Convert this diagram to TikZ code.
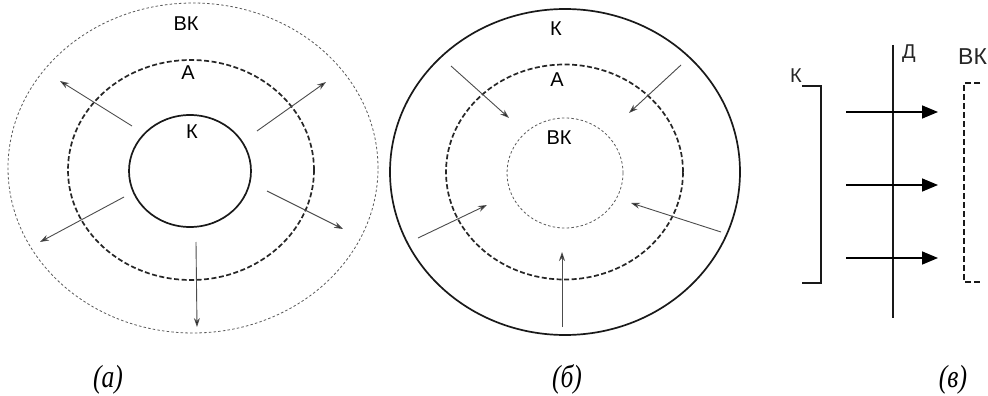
\documentclass[tikz,border=0pt]{standalone}
\usepackage{fontspec}
\setmainfont{Liberation Serif}
\setsansfont{Liberation Sans}
\usetikzlibrary{arrows.meta}
\tikzset{
  dotring/.style={draw=black!65, line width=0.8pt, dash pattern=on 2.5pt off 2.2pt},
  dashring/.style={draw=black!85, line width=1.7pt, dash pattern=on 5pt off 2.5pt},
  solidring/.style={draw=black!90, line width=1.7pt},
  thinarrow/.style={draw=black!70, line width=0.9pt, -{Stealth[length=9pt,width=6pt,fill=black]}},
  bigarrow/.style={draw=black, line width=1.6pt, -{Triangle[length=16pt,width=13pt]}},
  lbl/.style={font=\sffamily\fontsize{20}{20}\selectfont, inner sep=0pt, anchor=base},
  lblc/.style={font=\sffamily\fontsize{20}{20}\selectfont, inner sep=0pt, text=black!85, anchor=base},
  captxt/.style={font=\itshape\fontsize{32}{32}\selectfont, inner sep=0pt, xscale=0.8, anchor=base}
}
\begin{document}
\begin{tikzpicture}[x=1pt,y=-1pt]
\clip (0,0) rectangle (988,396);
\fill[white] (0,0) rectangle (988,396);

% ---------- (a) ----------
\draw[dotring]   (193,168) ellipse [x radius=185pt, y radius=165pt];
\draw[dashring]  (191,170) ellipse [x radius=123pt, y radius=110pt];
\draw[solidring] (190,171) ellipse [x radius=61pt, y radius=56pt];
\node[lbl] (aBK) at (186,31) {ВК};
\node[lbl] (aA)  at (188,80) {А};
\node[lbl] (aK)  at (192,138) {К};
\coordinate (a1s) at (132,126); \coordinate (a1e) at (60,81);
\coordinate (a2s) at (257,131); \coordinate (a2e) at (326,82);
\coordinate (a3s) at (124,197); \coordinate (a3e) at (40,242);
\coordinate (a4s) at (267,191); \coordinate (a4e) at (343,229);
\coordinate (a5s) at (196,242); \coordinate (a5e) at (197,327);
\foreach \i in {1,...,5}{\draw[thinarrow] (a\i s) -- (a\i e);}

% ---------- (б) ----------
\draw[solidring] (565,172) ellipse [x radius=175pt, y radius=163pt];
\draw[dashring]  (564.5,172) ellipse [x radius=118.5pt, y radius=107.5pt];
\draw[dotring]   (565,173) ellipse [x radius=58pt, y radius=55pt];
\node[lbl] (bK)  at (556,36) {К};
\node[lbl] (bA)  at (557,86) {А};
\node[lbl] (bBK) at (559,144) {ВК};
\coordinate (b1s) at (451,66);  \coordinate (b1e) at (509,118);
\coordinate (b2s) at (681,65);  \coordinate (b2e) at (629,113);
\coordinate (b3s) at (418,238); \coordinate (b3e) at (487,205);
\coordinate (b4s) at (721,232); \coordinate (b4e) at (631,203);
\coordinate (b5s) at (562,327); \coordinate (b5e) at (562,252);
\foreach \i in {1,...,5}{\draw[thinarrow] (b\i s) -- (b\i e);}

% ---------- (в) ----------
\node[lblc] (cK)  at (796,82) {К};
\node[lblc] (cA)  at (909,59) {Д};
\node[lblc, anchor=base west, font=\sffamily\fontsize{23}{23}\selectfont] (cBK) at (958,65) {ВК};
\draw[black!90, line width=1.6pt] (802,86) -- (821,86) -- (821,283) -- (802,283);
\draw[black!90, line width=1.6pt] (893,45) -- (893,318);
\draw[black!90, line width=1.5pt, dash pattern=on 6pt off 3pt] (980,83) -- (964,83) -- (964,282) -- (980,282);
\coordinate (c1s) at (846,112); \coordinate (c1e) at (938,112);
\coordinate (c2s) at (846,185); \coordinate (c2e) at (938,185);
\coordinate (c3s) at (846,258); \coordinate (c3e) at (938,258);
\foreach \i in {1,2,3}{\draw[bigarrow] (c\i s) -- (c\i e);}

% ---------- captions ----------
\node[captxt] (capa) at (108,387) {(а)};
\node[captxt] (capb) at (567,387) {(б)};
\node[captxt] (capc) at (953,387) {(в)};
\end{tikzpicture}
\end{document}
